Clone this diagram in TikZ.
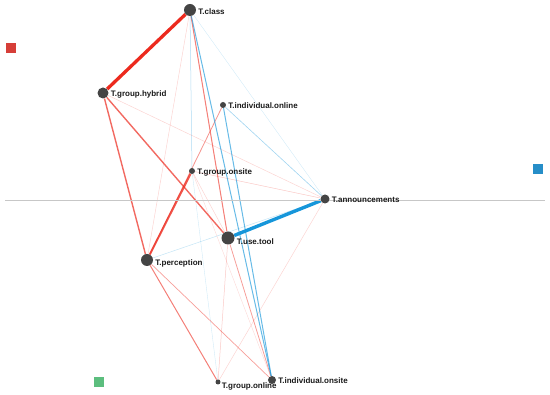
\documentclass[tikz,border=0pt]{standalone}
\usepackage{fontspec}
\setmainfont{Liberation Sans}
\usetikzlibrary{backgrounds}
\definecolor{redE}{RGB}{236,42,30}
\definecolor{blueE}{RGB}{22,150,218}
\definecolor{nodeC}{RGB}{68,68,68}
\definecolor{sqRed}{RGB}{214,62,56}
\definecolor{sqBlue}{RGB}{38,142,200}
\definecolor{sqGreen}{RGB}{92,190,126}
\tikzset{
  pt/.style={circle,fill=nodeC,inner sep=0pt,minimum size=#1},
  lab/.style={anchor=west,font=\bfseries\fontsize{8}{9.5}\selectfont,inner sep=1pt,text=black!90},
  re/.style={draw=redE,line width=#1},
  be/.style={draw=blueE,line width=#1},
  sq/.style={inner sep=0pt,minimum size=9.5pt,fill=#1}
}
\begin{document}
\begin{tikzpicture}[x=1pt,y=-1pt]
\useasboundingbox (0,0) rectangle (550,395);
\draw[black!22,line width=0.5] (5,200) -- (545,200);
% nodes
\node[pt=12pt] (C) at (190,10) {};
\node[pt=11pt] (H) at (103,93) {};
\node[pt=6pt] (IO) at (223,105) {};
\node[pt=6pt] (GO) at (192,171) {};
\node[pt=9pt] (A) at (325,199) {};
\node[pt=13pt] (U) at (228,238) {};
\node[pt=12pt] (P) at (147,260) {};
\node[pt=5pt] (GN) at (218,382) {};
\node[pt=8pt] (IN) at (272,380) {};
% labels
\node[lab] (LC) at ([xshift=1pt,yshift=-1.5pt]C.east) {T.class};
\node[lab] (LH) at ([xshift=1pt,yshift=-1.5pt]H.east) {T.group.hybrid};
\node[lab] (LIO) at ([xshift=1pt,yshift=-1pt]IO.east) {T.individual.online};
\node[lab] (LGO) at ([xshift=1pt,yshift=-1pt]GO.east) {T.group.onsite};
\node[lab] (LA) at ([xshift=1pt,yshift=-1pt]A.east) {T.announcements};
\node[lab] (LU) at ([xshift=1pt,yshift=-3.5pt]U.east) {T.use.tool};
\node[lab] (LP) at ([xshift=1pt,yshift=-3.5pt]P.east) {T.perception};
\node[lab] (LGN) at ([xshift=0pt,yshift=-4.5pt]GN.east) {T.group.online};
\node[lab] (LIN) at ([xshift=1pt,yshift=-1pt]IN.east) {T.individual.onsite};
% squares
\node[sq=sqRed] (SR) at (11,48) {};
\node[sq=sqBlue] (SB) at (538,169) {};
\node[sq=sqGreen] (SG) at (99,382) {};
\begin{pgfonlayer}{background}
% faint edges
\draw[re=0.5,draw opacity=0.2] (H) -- (A);
\draw[re=0.5,draw opacity=0.2] (C) -- (P);
\draw[re=0.5,draw opacity=0.25] (GO) -- (A);
\draw[re=0.5,draw opacity=0.2] (A) -- (GN);
\draw[re=0.5,draw opacity=0.25] (U) -- (GN);
\draw[re=0.5,draw opacity=0.2] (GO) -- (U);
\draw[re=0.4,draw opacity=0.18] (GO) -- (IN);
\draw[be=0.4,draw opacity=0.2] (C) -- (A);
\draw[be=0.5,draw opacity=0.35] (C) -- (GO);
\draw[be=0.4,draw opacity=0.2] (GO) -- (GN);
\draw[be=0.5,draw opacity=0.25] (P) -- (A);
\draw[be=0.6,draw opacity=0.4] (IO) -- (A);
% medium edges
\draw[re=0.7,draw opacity=0.45] (P) -- (IN);
\draw[re=0.8,draw opacity=0.45] (U) -- (IN);
\draw[re=0.8,draw opacity=0.5] (IO) -- (P);
\draw[re=1.0,draw opacity=0.6] (C) -- (U);
\draw[re=1.0,draw opacity=0.6] (P) -- (GN);
\draw[re=1.4,draw opacity=0.7] (H) -- (P);
\draw[re=1.4,draw opacity=0.7] (H) -- (U);
\draw[re=2.0,draw opacity=0.8] (GO) -- (P);
\draw[be=1.0,draw opacity=0.65] (C) -- (IN);
\draw[be=1.0,draw opacity=0.65] (IO) -- (IN);
% strong edges
\draw[re=3.3] (C) -- (H);
\draw[be=3.4] (U) -- (A);
\end{pgfonlayer}
\end{tikzpicture}
\end{document}
